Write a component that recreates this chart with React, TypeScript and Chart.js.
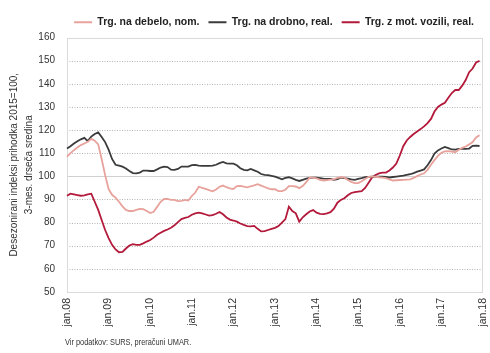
import React, { useEffect, useRef } from 'react';
import { Chart, registerables } from 'chart.js';

Chart.register(...registerables);

// ---- data ----
const YEARS = ['08', '09', '10', '11', '12', '13', '14', '15', '16', '17', '18'];
const MONTHS = ['jan', 'feb', 'mar', 'apr', 'maj', 'jun', 'jul', 'avg', 'sep', 'okt', 'nov', 'dec'];
const categories = YEARS.flatMap((y) => MONTHS.map((m) => `${m}.${y}`)).slice(0, 121);

const seriesNames = ['Trg. na debelo, nom.', 'Trg. na drobno, real.', 'Trg. z mot. vozili, real.'];

const wholesaleNominal = [
  108.5, 110.0, 111.3, 112.5, 113.5, 114.2, 114.9, 116.2, 115.4, 113.8, 107.5, 100.5,
  94.5, 92.0, 90.8, 89.0, 87.0, 85.5, 85.0, 85.0, 85.5, 85.9, 85.8, 85.0,
  84.1, 84.7, 86.8, 89.0, 90.2, 90.2, 89.8, 89.8, 89.3, 89.4, 89.8, 89.5,
  91.5, 93.0, 95.5, 95.0, 94.6, 94.0, 93.5, 94.3, 95.5, 96.0, 95.3, 94.8,
  94.5, 95.8, 95.9, 95.5, 95.2, 95.7, 96.1, 96.6, 96.0, 95.4, 94.8, 94.4,
  94.4, 93.6, 93.6, 94.2, 95.8, 95.8, 95.6, 94.9, 95.8, 97.5, 99.4, 99.4,
  99.1, 98.5, 98.2, 98.4, 98.6, 98.7, 99.3, 99.6, 99.5, 98.4, 97.6, 97.1,
  97.1, 97.9, 98.8, 99.8, 99.9, 99.9, 99.6, 99.4, 99.2, 98.7, 98.2, 98.3,
  98.4, 98.5, 98.6, 98.7, 99.3, 100.1, 100.8, 101.3, 102.8, 105.0, 107.0, 108.8,
  110.2, 110.8, 110.9, 110.7, 110.4, 111.5, 112.3, 112.9, 113.8, 114.8, 116.8, 117.8,
];

const retailReal = [
  112.0, 113.0, 114.2, 115.2, 116.0, 116.6, 115.2, 117.2, 118.3, 119.0, 117.0, 114.8,
  111.5, 107.5, 105.0, 104.6, 104.2, 103.4, 102.3, 101.4, 101.3, 101.6, 102.5, 102.5,
  102.3, 102.3, 103.0, 103.8, 104.2, 104.0, 102.9, 102.8, 103.2, 104.2, 104.2, 104.2,
  104.8, 104.9, 104.6, 104.5, 104.5, 104.5, 104.6, 105.0, 105.7, 106.2, 105.6, 105.5,
  105.5, 104.8, 103.5, 102.8, 102.6, 103.2, 102.6, 102.0, 101.0, 100.6, 100.5, 100.2,
  99.9, 99.3, 98.7, 99.3, 99.6, 99.1, 98.5, 98.0, 98.5, 99.0, 99.3, 99.4,
  99.4, 99.2, 99.0, 98.9, 98.9, 98.5, 98.8, 99.4, 99.2, 99.0, 98.7, 98.5,
  98.9, 99.2, 99.6, 99.8, 99.9, 99.9, 99.9, 99.9, 99.8, 99.5, 99.7, 99.9,
  100.1, 100.3, 100.6, 100.9, 101.4, 102.0, 102.5, 103.0, 104.8, 107.0, 109.8, 111.2,
  112.0, 112.7, 112.2, 111.6, 111.5, 111.9, 111.9, 111.9, 112.0, 113.2, 113.3, 113.1,
];

const motorVehiclesReal = [
  91.6, 92.5, 92.2, 91.9, 91.6, 91.8, 92.2, 92.5, 89.0, 85.5, 81.1, 76.8,
  73.3, 70.4, 68.4, 67.2, 67.3, 68.8, 70.1, 70.7, 70.4, 70.4, 71.0, 71.8,
  72.5, 73.5, 74.7, 75.6, 76.4, 77.0, 77.8, 78.8, 80.2, 81.5, 82.0, 82.4,
  83.4, 84.0, 84.3, 84.0, 83.5, 83.0, 83.2, 83.8, 84.6, 83.6, 82.2, 81.3,
  80.9, 80.4, 79.6, 79.0, 78.5, 78.4, 78.6, 77.3, 76.2, 76.3, 76.8, 77.3,
  77.7, 78.5, 80.0, 81.5, 86.9, 85.0, 84.0, 80.4, 82.3, 83.6, 84.8, 85.4,
  84.3, 83.8, 83.7, 84.0, 84.5, 86.0, 88.6, 89.8, 90.5, 91.8, 92.8, 93.2,
  93.4, 93.6, 95.0, 97.2, 99.5, 100.6, 101.3, 101.6, 101.6, 102.5, 103.8, 105.5,
  109.0, 113.0, 115.5, 117.0, 118.3, 119.4, 120.4, 121.6, 123.0, 124.8, 128.0, 130.0,
  131.0, 131.8, 134.0, 136.0, 137.3, 137.3, 139.2, 141.6, 145.0, 146.6, 149.2, 149.9,
];

const Y_MIN = 50;
const Y_MAX = 160;
const Y_STEP = 10;
const Y_BASE = 100;
const Y_TITLE = ['Desezonirani indeksi prihodka 2015=100,', '3-mes. drseča sredina'];
const SOURCE = 'Vir podatkov: SURS, preračuni UMAR.';

const FONT = "'Liberation Sans', Arial, sans-serif";
const TEXT = '#333333';

const framePlugin = {
  id: 'frame',
  beforeDatasetsDraw(chart: any) {
    const { ctx, chartArea: a, scales } = chart;
    const y = scales.y;
    ctx.save();
    ctx.lineWidth = 1;
    ctx.strokeStyle = '#b5b5b5';
    ctx.setLineDash([1, 1.5]);
    for (let v = Y_MIN + Y_STEP; v < Y_MAX; v += Y_STEP) {
      if (v === Y_BASE) continue;
      const yy = Math.round(y.getPixelForValue(v)) + 0.5;
      ctx.beginPath();
      ctx.moveTo(a.left, yy);
      ctx.lineTo(a.right, yy);
      ctx.stroke();
    }
    ctx.setLineDash([]);
    ctx.strokeStyle = '#d0d0d0';
    const yb = Math.round(y.getPixelForValue(Y_BASE)) + 0.5;
    ctx.beginPath();
    ctx.moveTo(a.left, yb);
    ctx.lineTo(a.right, yb);
    ctx.stroke();
    ctx.strokeStyle = '#dadada';
    ctx.strokeRect(Math.round(a.left) + 0.5, Math.round(a.top) + 0.5, Math.round(a.width) - 1, Math.round(a.height) - 1);
    ctx.restore();
  },
};

export default function App() {
  const ref = useRef<HTMLCanvasElement | null>(null);

  useEffect(() => {
    document.body.style.margin = '0';
    const canvas = ref.current;
    if (!canvas) return;
    const chart = new Chart(canvas, {
      type: 'line',
      data: {
        labels: categories,
        datasets: [
          { label: seriesNames[0], data: wholesaleNominal, borderColor: '#e8a29c', backgroundColor: '#e8a29c', borderWidth: 1.8 },
          { label: seriesNames[1], data: retailReal, borderColor: '#3b3b3b', backgroundColor: '#3b3b3b', borderWidth: 1.8 },
          { label: seriesNames[2], data: motorVehiclesReal, borderColor: '#b3193a', backgroundColor: '#b3193a', borderWidth: 1.8 },
        ],
      },
      options: {
        animation: false,
        responsive: false,
        maintainAspectRatio: false,
        elements: { point: { radius: 0 }, line: { tension: 0 } },
        layout: { autoPadding: false, padding: { left: 0, right: 7, top: 8, bottom: 20 } },
        plugins: {
          tooltip: { enabled: false },
          legend: {
            position: 'top',
            align: 'end',
            labels: {
              usePointStyle: true,
              pointStyle: 'line',
              pointStyleWidth: 18,
              boxHeight: 11,
              padding: 9,
              color: '#222',
              font: { family: FONT, size: 10.5, weight: 'bold' },
            },
          },
        },
        scales: {
          x: {
            type: 'category',
            offset: false,
            grid: { display: false, drawTicks: false },
            border: { display: false },
            afterFit: (s: any) => {
              s.height = 41;
              s.paddingLeft = 0;
              s.paddingRight = 0;
            },
            ticks: {
              autoSkip: false,
              maxRotation: 90,
              minRotation: 90,
              color: TEXT,
              padding: 6,
              font: { family: FONT, size: 10.5 },
              callback: (_v: any, i: number) => (i % 12 === 0 ? categories[i] : null),
            },
          },
          y: {
            min: Y_MIN,
            max: Y_MAX,
            grid: { display: false, drawTicks: false },
            border: { display: false },
            afterFit: (s: any) => {
              s.width = 67;
              s.paddingTop = 0;
              s.paddingBottom = 0;
            },
            ticks: { stepSize: Y_STEP, color: TEXT, padding: 12, font: { family: FONT, size: 10 } },
            title: {
              display: true,
              text: Y_TITLE,
              color: TEXT,
              font: { family: FONT, size: 10, lineHeight: 1.5 },
              padding: { top: 6.5, bottom: 2 },
            },
          },
        },
      },
      plugins: [framePlugin],
    });
    return () => chart.destroy();
  }, []);

  return (
    <div style={{ position: 'relative', width: 490, height: 353, background: '#fff' }}>
      <canvas ref={ref} width={490} height={353} style={{ display: 'block' }} />
      <div
        style={{
          position: 'absolute',
          left: 65,
          top: 337,
          fontFamily: FONT,
          fontSize: 9,
          color: TEXT,
          whiteSpace: 'nowrap',
          transform: 'scaleX(0.82)',
          transformOrigin: 'left top',
        }}
      >
        {SOURCE}
      </div>
    </div>
  );
}
